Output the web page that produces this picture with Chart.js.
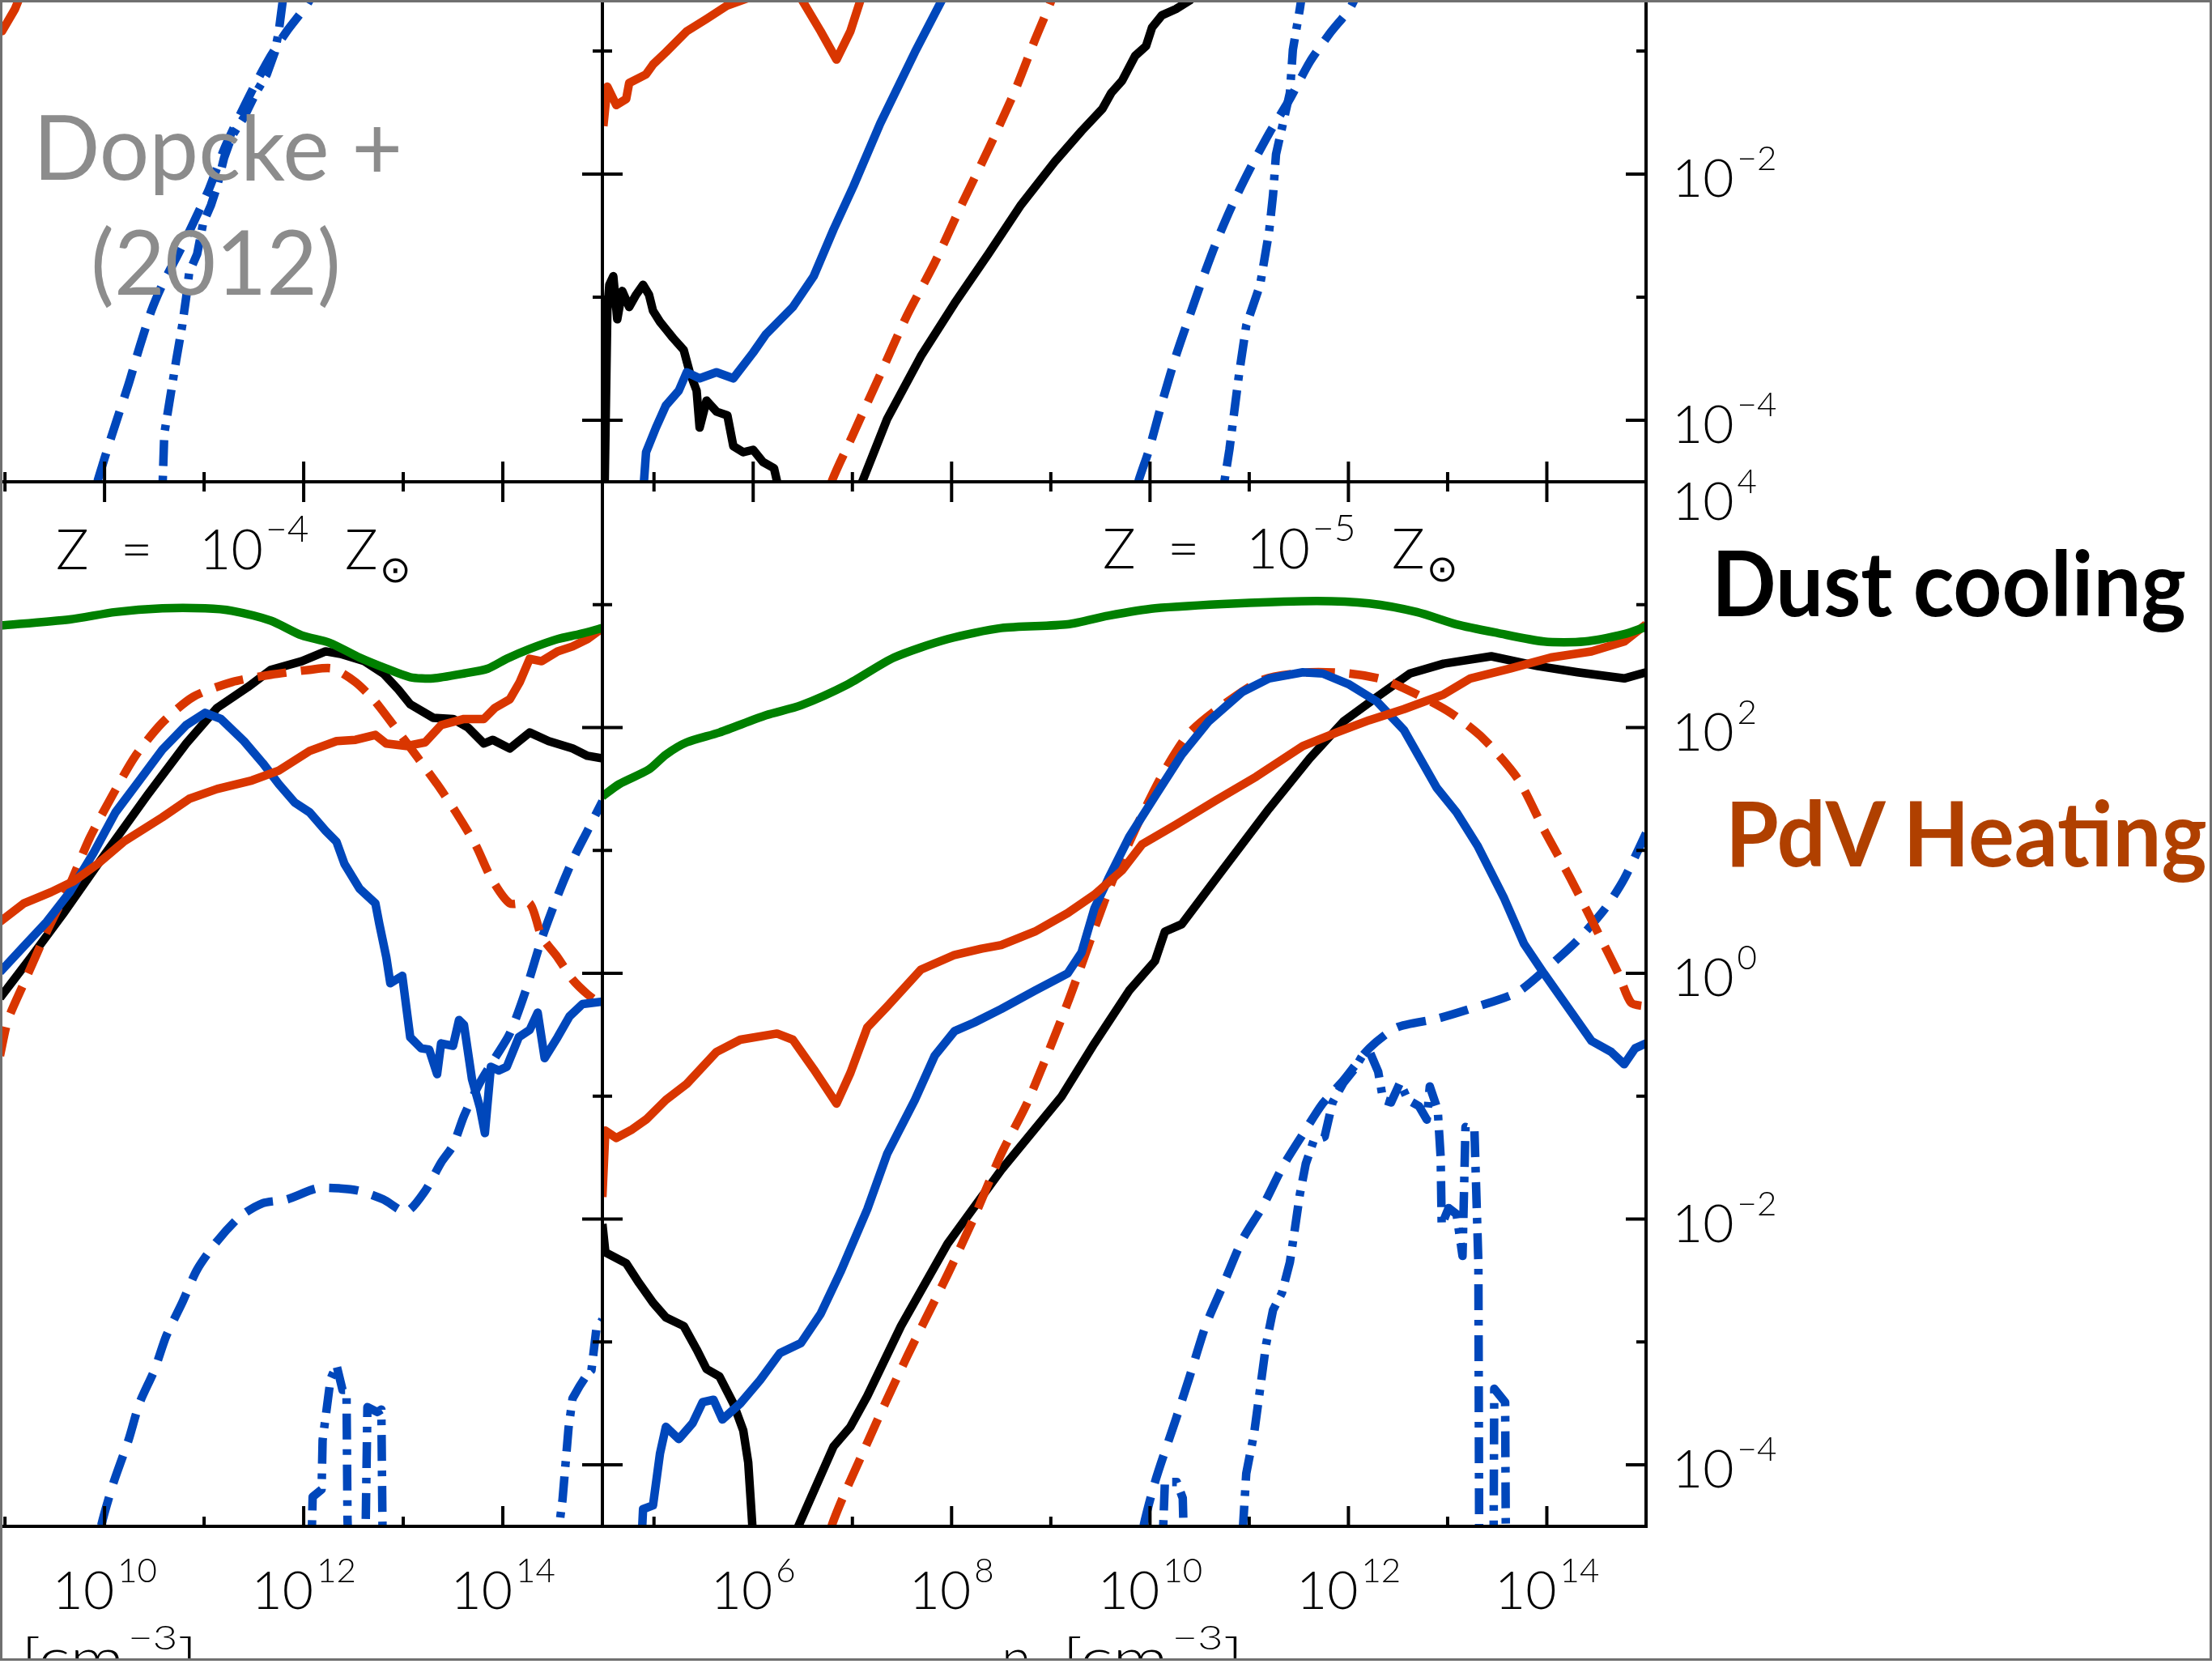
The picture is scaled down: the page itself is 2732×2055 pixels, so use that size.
<!DOCTYPE html>
<html>
<head>
<meta charset="utf-8">
<script src="https://cdn.jsdelivr.net/npm/chart.js@4.4.1/dist/chart.umd.min.js"></script>
<style>
  html, body { margin: 0; padding: 0; background: #fff; }
  #page { position: relative; width: 2732px; height: 2051px; overflow: hidden; background: #fff; }
  #page canvas { position: absolute; left: 0; top: 0; }
  #frame { position: absolute; left: 0; top: 0; width: 2732px; height: 2051px; box-sizing: border-box;
           border: 3px solid #707070; pointer-events: none; z-index: 5; }
  .txt { position: absolute; white-space: pre; line-height: 1; font-family: Lato, "DejaVu Sans", sans-serif; z-index: 3; }
  .probe { display: inline-block; width: 0; height: 0; vertical-align: baseline; }
  .tick { font-size: 66px; font-weight: 300; color: #000; }
  .sup { font-size: 42px; position: relative; top: -33px; margin-left: 4px; }
  .zl { font-size: 68px; font-weight: 300; color: #000; }
  .zsup { font-size: 46px; font-weight: 300; color: #000; }
  .zsun { font-size: 46px; font-family: "DejaVu Sans", sans-serif; color: #000; }
  .cite { font-size: 110px; color: #8c8c8c; }
  .big { font-size: 112px; font-weight: 700; }
</style>
</head>
<body>
<div id="page">
  <canvas id="tl" width="2732" height="2055"></canvas>
  <canvas id="tr" width="2732" height="2055"></canvas>
  <canvas id="bl" width="2732" height="2055"></canvas>
  <canvas id="br" width="2732" height="2055"></canvas>
  <div id="frame"></div>
</div>
<script>
// all values are [log10 n, log10 rate]

// axis ranges (log10)
const leftXRange = [8.95, 15];
const rightXRange = [4.48, 15];
const topYRange = [-4.5, -0.586];
const bottomYRange = [-4.5, 4];

// tick decades and labelled decades
const leftXDecades = [9, 10, 11, 12, 13, 14];
const rightXDecades = [5, 6, 7, 8, 9, 10, 11, 12, 13, 14];
const topYDecades = [-4, -3, -2, -1];
const bottomYDecades = [-4, -3, -2, -1, 0, 1, 2, 3, 4];
const leftXLabels = [10, 12, 14];
const rightXLabels = [6, 8, 10, 12, 14];
const topYLabels = [-2, -4];
const bottomYLabels = [4, 2, 0, -2, -4];

// ---- top left panel (cropped)
const tlRed = [[8.90,-0.75],[8.97,-0.84],[9.10,-0.66],[9.18,-0.50]];
const tlBlueDash = [[9.85,-5.2],[9.90,-4.6],[10.00,-4.31],[10.11,-4.03],[10.24,-3.71],[10.35,-3.41],[10.47,-3.11],[10.58,-2.90],[10.74,-2.65],[10.89,-2.40],[11.05,-2.12],[11.20,-1.80],[11.36,-1.52],[11.52,-1.26],[11.67,-1.04],[11.83,-0.84],[12.02,-0.64],[12.12,-0.50]];
const tlDashDot = [[10.55,-5.2],[10.58,-4.6],[10.60,-4.11],[10.66,-3.81],[10.72,-3.51],[10.78,-3.23],[10.82,-3.0],[10.85,-2.80],[10.93,-2.65],[10.99,-2.40],[11.07,-2.25],[11.13,-2.10],[11.20,-1.87],[11.28,-1.69],[11.40,-1.54],[11.52,-1.34],[11.63,-1.19],[11.71,-1.01],[11.75,-0.84],[11.79,-0.59],[11.81,-0.45]];

// ---- top right panel (cropped)
const trRed = [[4.49,-1.61],[4.53,-1.29],[4.62,-1.44],[4.72,-1.39],[4.75,-1.26],[4.92,-1.19],[4.99,-1.11],[5.12,-1.01],[5.33,-0.84],[5.53,-0.74],[5.74,-0.63],[5.95,-0.57],[6.24,-0.45],[6.48,-0.57],[6.68,-0.84],[6.84,-1.07],[6.98,-0.84],[7.08,-0.59],[7.25,-0.40]];
const trBlack = [[4.49,-5.2],[4.53,-3.11],[4.55,-2.90],[4.59,-2.83],[4.63,-3.18],[4.68,-2.95],[4.75,-3.08],[4.82,-2.98],[4.89,-2.90],[4.95,-2.98],[4.99,-3.11],[5.06,-3.20],[5.12,-3.26],[5.19,-3.33],[5.30,-3.43],[5.36,-3.61],[5.43,-3.76],[5.46,-4.06],[5.53,-3.84],[5.63,-3.93],[5.74,-3.96],[5.80,-4.21],[5.90,-4.26],[6.00,-4.24],[6.10,-4.34],[6.21,-4.39],[6.27,-4.6],[6.30,-5.2],[7.00,-5.2],[7.05,-4.6],[7.35,-3.99],[7.69,-3.48],[8.03,-3.05],[8.37,-2.65],[8.70,-2.25],[9.04,-1.90],[9.31,-1.65],[9.52,-1.47],[9.61,-1.34],[9.72,-1.24],[9.85,-1.04],[9.96,-0.96],[10.02,-0.81],[10.12,-0.71],[10.26,-0.66],[10.40,-0.59],[10.56,-0.45]];
const trRedDash = [[6.70,-5.2],[6.75,-4.6],[7.01,-4.11],[7.28,-3.63],[7.55,-3.15],[7.83,-2.72],[8.10,-2.25],[8.37,-1.80],[8.64,-1.32],[8.84,-0.91],[8.97,-0.66],[9.05,-0.50]];
const trBlue = [[4.86,-5.2],[4.89,-4.6],[4.92,-4.26],[5.02,-4.06],[5.12,-3.88],[5.25,-3.76],[5.33,-3.61],[5.46,-3.66],[5.63,-3.61],[5.80,-3.66],[6.00,-3.45],[6.13,-3.30],[6.40,-3.08],[6.61,-2.83],[6.81,-2.45],[7.01,-2.10],[7.28,-1.59],[7.63,-1.01],[7.90,-0.59],[7.99,-0.45]];
const trBlueDash = [[9.80,-5.2],[9.85,-4.6],[9.99,-4.24],[10.12,-3.86],[10.26,-3.48],[10.40,-3.15],[10.53,-2.85],[10.67,-2.55],[10.83,-2.25],[11.00,-1.97],[11.20,-1.67],[11.41,-1.39],[11.61,-1.09],[11.81,-0.86],[12.01,-0.66],[12.11,-0.50]];
const trDashDot = [[10.70,-5.2],[10.73,-4.6],[10.80,-4.24],[10.90,-3.61],[10.97,-3.23],[11.11,-2.90],[11.20,-2.47],[11.24,-2.17],[11.27,-1.84],[11.34,-1.59],[11.41,-1.34],[11.44,-0.99],[11.51,-0.66],[11.54,-0.50]];

// ---- bottom left panel, Z = 1e-4 Zsun (cropped)
const blGreen = [[8.95,2.83],[9.65,2.88],[10.11,2.94],[10.58,2.97],[11.01,2.97],[11.28,2.95],[11.67,2.87],[11.98,2.75],[12.26,2.69],[12.56,2.57],[12.83,2.48],[13.07,2.41],[13.30,2.40],[13.61,2.44],[13.85,2.48],[14.04,2.56],[14.27,2.64],[14.55,2.72],[14.77,2.76],[15.0,2.81]];
const blBlack = [[8.95,-0.20],[9.26,0.13],[9.58,0.48],[9.96,0.92],[10.43,1.45],[10.82,1.87],[11.13,2.16],[11.44,2.33],[11.67,2.47],[11.98,2.54],[12.22,2.62],[12.37,2.60],[12.61,2.54],[12.80,2.44],[12.95,2.31],[13.07,2.19],[13.30,2.08],[13.50,2.07],[13.65,2.00],[13.81,1.87],[13.90,1.90],[14.07,1.83],[14.27,1.96],[14.46,1.89],[14.70,1.83],[14.85,1.77],[15.0,1.75]];
const blRed = [[8.95,0.42],[9.19,0.57],[9.46,0.66],[9.69,0.75],[9.93,0.89],[10.19,1.07],[10.58,1.27],[10.85,1.42],[11.13,1.50],[11.48,1.57],[11.75,1.65],[12.06,1.81],[12.33,1.89],[12.52,1.90],[12.72,1.94],[12.83,1.87],[13.03,1.85],[13.22,1.88],[13.38,2.02],[13.61,2.07],[13.81,2.07],[13.92,2.16],[14.07,2.23],[14.17,2.37],[14.27,2.56],[14.39,2.54],[14.55,2.62],[14.70,2.66],[14.85,2.72],[15.0,2.81]];
const blBlue = [[8.95,0.01],[9.19,0.22],[9.42,0.42],[9.65,0.66],[9.89,0.98],[10.11,1.31],[10.35,1.57],[10.58,1.82],[10.82,2.02],[11.01,2.12],[11.17,2.07],[11.40,1.89],[11.59,1.71],[11.75,1.54],[11.91,1.39],[12.06,1.31],[12.22,1.16],[12.33,1.07],[12.41,0.89],[12.56,0.69],[12.72,0.57],[12.76,0.40],[12.83,0.13],[12.87,-0.08],[12.99,-0.02],[13.07,-0.52],[13.18,-0.61],[13.26,-0.62],[13.34,-0.82],[13.38,-0.57],[13.50,-0.59],[13.56,-0.38],[13.61,-0.42],[13.69,-0.86],[13.77,-1.09],[13.82,-1.30],[13.88,-0.76],[13.96,-0.79],[14.04,-0.76],[14.16,-0.52],[14.27,-0.46],[14.35,-0.32],[14.42,-0.69],[14.55,-0.52],[14.67,-0.35],[14.80,-0.25],[15.0,-0.23]];
const blRedDash = [[8.95,-0.67],[9.03,-0.38],[9.19,-0.08],[9.42,0.34],[9.65,0.72],[9.85,1.10],[10.08,1.45],[10.31,1.77],[10.58,2.04],[10.89,2.25],[11.28,2.37],[11.67,2.43],[12.06,2.47],[12.29,2.48],[12.52,2.37],[12.72,2.21],[12.91,2.01],[13.15,1.75],[13.34,1.54],[13.53,1.31],[13.73,1.04],[13.88,0.78],[14.07,0.57],[14.27,0.57],[14.39,0.30],[14.55,0.13],[14.70,-0.05],[14.85,-0.17],[15.0,-0.26]];
const blBlueDash = [[9.90,-5.2],[9.94,-4.6],[10.08,-4.17],[10.24,-3.80],[10.35,-3.50],[10.50,-3.23],[10.62,-2.95],[10.78,-2.68],[10.93,-2.41],[11.13,-2.18],[11.36,-1.98],[11.59,-1.87],[11.83,-1.84],[12.13,-1.75],[12.37,-1.75],[12.56,-1.77],[12.80,-1.84],[13.03,-1.94],[13.22,-1.77],[13.38,-1.54],[13.50,-1.40],[13.61,-1.16],[13.77,-0.89],[13.92,-0.69],[14.07,-0.49],[14.23,-0.14],[14.39,0.28],[14.55,0.63],[14.70,0.92],[14.85,1.16],[15.0,1.40]];
const blDashDot = [[12.05,-5.2],[12.08,-4.6],[12.09,-4.26],[12.18,-4.20],[12.19,-3.80],[12.27,-3.30],[12.33,-3.19],[12.39,-3.39],[12.43,-3.39],[12.44,-4.44],[12.47,-5.2],[12.61,-5.2],[12.64,-3.53],[12.74,-3.57],[12.78,-3.55],[12.80,-5.2],[14.52,-5.2],[14.55,-4.6],[14.60,-4.28],[14.66,-3.70],[14.70,-3.46],[14.77,-3.36],[14.85,-3.26],[14.89,-3.23],[14.94,-2.89],[15.0,-2.82]];

// ---- bottom right panel, Z = 1e-5 Zsun
const brGreen = [[4.48,1.44],[4.65,1.54],[4.95,1.66],[5.12,1.78],[5.33,1.88],[5.66,1.96],[6.13,2.10],[6.48,2.18],[6.95,2.35],[7.42,2.57],[7.96,2.72],[8.50,2.81],[9.17,2.84],[9.58,2.91],[10.05,2.97],[10.87,3.01],[11.68,3.03],[12.21,3.01],[12.69,2.94],[13.09,2.84],[13.50,2.77],[13.97,2.70],[14.38,2.70],[14.78,2.76],[15.0,2.82]];
const brBlack = [[4.48,-2.04],[4.51,-2.27],[4.72,-2.36],[4.85,-2.52],[4.99,-2.68],[5.12,-2.80],[5.30,-2.87],[5.43,-3.06],[5.53,-3.22],[5.66,-3.28],[5.80,-3.50],[5.90,-3.72],[5.95,-3.98],[6.00,-4.6],[6.02,-5.2],[6.38,-5.2],[6.40,-4.6],[6.81,-3.85],[6.98,-3.69],[7.15,-3.44],[7.49,-2.87],[7.96,-2.20],[8.50,-1.60],[9.11,-1.00],[9.44,-0.57],[9.79,-0.14],[10.05,0.10],[10.15,0.34],[10.32,0.40],[10.73,0.84],[11.20,1.34],[11.61,1.75],[11.95,2.05],[12.29,2.25],[12.62,2.44],[12.96,2.52],[13.44,2.58],[13.91,2.50],[14.31,2.45],[14.59,2.42],[14.78,2.40],[15.0,2.45]];
const brRed = [[4.48,-1.82],[4.51,-1.28],[4.62,-1.34],[4.78,-1.27],[4.92,-1.19],[5.12,-1.03],[5.33,-0.90],[5.63,-0.64],[5.87,-0.54],[6.24,-0.49],[6.40,-0.54],[6.61,-0.78],[6.84,-1.06],[6.98,-0.81],[7.15,-0.44],[7.35,-0.27],[7.69,0.03],[8.03,0.15],[8.30,0.20],[8.50,0.23],[8.84,0.34],[9.17,0.49],[9.44,0.64],[9.72,0.84],[9.92,1.05],[10.26,1.21],[10.67,1.41],[11.07,1.60],[11.54,1.85],[11.88,1.96],[12.21,2.06],[12.56,2.15],[12.96,2.27],[13.23,2.40],[13.63,2.48],[14.04,2.57],[14.45,2.62],[14.78,2.70],[15.0,2.84]];
const brBlue = [[4.84,-5.2],[4.89,-4.36],[4.99,-4.33],[5.06,-3.91],[5.12,-3.69],[5.25,-3.79],[5.39,-3.66],[5.49,-3.49],[5.60,-3.47],[5.69,-3.63],[5.87,-3.50],[6.07,-3.31],[6.27,-3.09],[6.48,-3.01],[6.68,-2.77],[6.88,-2.43],[7.15,-1.92],[7.35,-1.47],[7.63,-1.03],[7.83,-0.67],[8.03,-0.47],[8.23,-0.40],[8.50,-0.29],[8.84,-0.14],[9.17,0.0],[9.31,0.17],[9.44,0.53],[9.58,0.77],[9.79,1.11],[10.05,1.44],[10.32,1.78],[10.59,2.05],[10.93,2.29],[11.20,2.40],[11.54,2.45],[11.74,2.44],[12.01,2.35],[12.29,2.21],[12.56,1.98],[12.89,1.51],[13.09,1.31],[13.30,1.04],[13.57,0.61],[13.77,0.24],[13.97,0.0],[14.18,-0.24],[14.45,-0.55],[14.65,-0.64],[14.78,-0.74],[14.89,-0.61],[15.0,-0.57]];
const brRedDash = [[6.70,-5.2],[6.75,-4.6],[7.15,-3.82],[7.55,-3.12],[7.96,-2.45],[8.23,-1.98],[8.50,-1.47],[8.77,-1.04],[9.17,-0.24],[9.58,0.67],[9.85,1.17],[10.12,1.61],[10.39,1.95],[10.73,2.18],[11.14,2.39],[11.61,2.45],[12.01,2.44],[12.35,2.39],[12.69,2.27],[13.03,2.12],[13.36,1.91],[13.71,1.58],[13.97,1.17],[14.24,0.77],[14.51,0.34],[14.72,0.0],[14.85,-0.24],[15.0,-0.27]];
const brBlueDash = [[9.85,-5.2],[9.91,-4.6],[10.05,-4.14],[10.26,-3.63],[10.40,-3.28],[10.56,-2.87],[10.73,-2.55],[10.93,-2.17],[11.14,-1.89],[11.34,-1.57],[11.54,-1.31],[11.74,-1.06],[11.95,-0.87],[12.21,-0.61],[12.49,-0.44],[12.89,-0.37],[13.30,-0.27],[13.71,-0.15],[14.04,0.07],[14.31,0.27],[14.59,0.53],[14.78,0.77],[15.0,1.14]];
const brDashDot = [[10.10,-5.2],[10.15,-4.14],[10.27,-4.14],[10.33,-4.27],[10.36,-5.2],[10.90,-5.2],[10.93,-4.6],[10.97,-4.07],[11.05,-3.74],[11.11,-3.38],[11.17,-3.02],[11.24,-2.74],[11.33,-2.60],[11.41,-2.35],[11.46,-2.08],[11.51,-1.80],[11.57,-1.55],[11.65,-1.36],[11.76,-1.33],[11.84,-1.05],[11.95,-0.89],[12.06,-0.78],[12.14,-0.67],[12.22,-0.65],[12.30,-0.80],[12.35,-1.03],[12.43,-1.05],[12.52,-0.89],[12.60,-1.03],[12.71,-1.08],[12.79,-1.19],[12.82,-0.92],[12.90,-1.11],[12.93,-1.50],[12.94,-2.05],[13.01,-1.91],[13.09,-1.96],[13.15,-2.30],[13.18,-1.25],[13.27,-1.27],[13.31,-2.36],[13.32,-5.2],[13.46,-5.2],[13.47,-3.38],[13.58,-3.49],[13.59,-5.2]];

const W = 2732, H = 2055;
const BLUE = '#0047bb', RED = '#d93600', GREEN = '#008000', BLACK = '#000000';

function series(pts, color, style, smooth) {
  let dash = [];
  if (style === 'dash') dash = [36, 18];
  if (style === 'dashdot') dash = [32, 12, 7, 12];
  return {
    data: pts.map(p => ({ x: 10 ** p[0], y: 10 ** p[1] })),
    borderColor: color,
    borderWidth: 10.5,
    borderDash: dash,
    borderJoinStyle: 'round',
    pointRadius: 0,
    fill: false,
    tension: smooth ? 0.25 : 0,
    clip: 0
  };
}

const panelAxes = {
  id: 'panelAxes',
  afterDatasetsDraw(chart, args, o) {
    const ctx = chart.ctx, a = chart.chartArea;
    const sx = chart.scales.x, sy = chart.scales.y;
    const s = o.sides;
    ctx.save();
    ctx.strokeStyle = '#000';
    ctx.lineWidth = 4;
    ctx.beginPath();
    if (s.includes('l')) { ctx.moveTo(a.left, a.top); ctx.lineTo(a.left, a.bottom + 2); }
    if (s.includes('r')) { ctx.moveTo(a.right, a.top); ctx.lineTo(a.right, a.bottom + 2); }
    if (s.includes('t')) { ctx.moveTo(a.left, a.top); ctx.lineTo(a.right + 2, a.top); }
    if (s.includes('b')) { ctx.moveTo(a.left, a.bottom); ctx.lineTo(a.right + 2, a.bottom); }
    for (const e of o.xTicks) {
      const px = sx.getPixelForValue(10 ** e);
      const len = e % 2 === 0 ? 25 : 12;
      if (s.includes('b')) { ctx.moveTo(px, a.bottom); ctx.lineTo(px, a.bottom - len); }
      if (s.includes('t')) { ctx.moveTo(px, a.top); ctx.lineTo(px, a.top + len); }
    }
    for (const e of o.yTicks) {
      const py = sy.getPixelForValue(10 ** e);
      const len = e % 2 === 0 ? 25 : 12;
      if (s.includes('l')) { ctx.moveTo(a.left, py); ctx.lineTo(a.left + len, py); }
      if (s.includes('r')) { ctx.moveTo(a.right, py); ctx.lineTo(a.right - len, py); }
    }
    ctx.stroke();
    ctx.restore();
  }
};

function panel(id, rect, xr, yr, datasets, sides, xTicks, yTicks) {
  return new Chart(document.getElementById(id), {
    type: 'line',
    data: { datasets: datasets },
    options: {
      responsive: false,
      animation: false,
      devicePixelRatio: 1,
      layout: { padding: { left: rect[0], top: rect[1], right: W - rect[2], bottom: H - rect[3] } },
      plugins: {
        legend: { display: false },
        tooltip: { enabled: false },
        panelAxes: { sides: sides, xTicks: xTicks, yTicks: yTicks }
      },
      scales: {
        x: { type: 'logarithmic', display: false, min: 10 ** xr[0], max: 10 ** xr[1] },
        y: { type: 'logarithmic', display: false, min: 10 ** yr[0], max: 10 ** yr[1] }
      }
    },
    plugins: [panelAxes]
  });
}

const tl = panel('tl', [0, 0, 744, 595], leftXRange, topYRange, [
  series(tlRed, RED), series(tlBlueDash, BLUE, 'dash', true), series(tlDashDot, BLUE, 'dashdot')
], 'rb', leftXDecades, topYDecades);

const tr = panel('tr', [744, 0, 2033, 595], rightXRange, topYRange, [
  series(trRed, RED), series(trBlue, BLUE), series(trRedDash, RED, 'dash', true),
  series(trBlueDash, BLUE, 'dash', true), series(trDashDot, BLUE, 'dashdot'), series(trBlack, BLACK)
], 'lrb', rightXDecades, topYDecades);

const bl = panel('bl', [0, 595, 744, 1885], leftXRange, bottomYRange, [
  series(blGreen, GREEN, null, true), series(blRed, RED), series(blBlue, BLUE), series(blRedDash, RED, 'dash', true),
  series(blBlueDash, BLUE, 'dash', true), series(blDashDot, BLUE, 'dashdot'), series(blBlack, BLACK)
], 'trb', leftXDecades, bottomYDecades);

const br = panel('br', [744, 595, 2033, 1885], rightXRange, bottomYRange, [
  series(brGreen, GREEN, null, true), series(brRed, RED), series(brBlue, BLUE), series(brRedDash, RED, 'dash', true),
  series(brBlueDash, BLUE, 'dash', true), series(brDashDot, BLUE, 'dashdot'), series(brBlack, BLACK)
], 'tlrb', rightXDecades, bottomYDecades);

// ---- html text, placed by baseline
const page = document.getElementById('page');

function addText(html, cls, x, baseline, align, fit, color) {
  const el = document.createElement('div');
  el.className = 'txt ' + cls;
  el.innerHTML = html;
  if (color) el.style.color = color;
  const probe = document.createElement('span');
  probe.className = 'probe';
  el.appendChild(probe);
  page.appendChild(el);
  const b = probe.offsetTop;
  let w = el.offsetWidth;
  if (fit) {
    el.style.transformOrigin = '0 0';
    el.style.transform = 'scaleX(' + (fit / w) + ')';
    w = fit;
  }
  el.style.left = (align === 'center' ? x - w / 2 : x) + 'px';
  el.style.top = (baseline - b) + 'px';
  return el;
}

function expText(e) {
  return e < 0 ? '\u2212' + (-e) : String(e);
}

function xLabels(chart, exps) {
  const a = chart.chartArea;
  for (const e of exps) {
    addText('10<span class="sup">' + expText(e) + '</span>', 'tick',
      chart.scales.x.getPixelForValue(10 ** e), a.bottom + 102, 'center');
  }
}

function yLabels(chart, exps) {
  const a = chart.chartArea;
  for (const e of exps) {
    const base = Math.max(chart.scales.y.getPixelForValue(10 ** e) + 28, a.top + 47);
    addText('10<span class="sup">' + expText(e) + '</span>', 'tick', a.right + 32, base, 'left');
  }
}

xLabels(bl, leftXLabels);
xLabels(br, rightXLabels);
yLabels(tr, topYLabels);
yLabels(br, bottomYLabels);

function zLabel(x, base, exp) {
  addText('Z', 'zl', x, base);
  addText('=', 'zl', x + 80, base);
  addText('10', 'zl', x + 177, base);
  addText(expText(exp), 'zsup', x + 259, base - 34);
  addText('Z', 'zl', x + 357, base);
  addText('\u2299', 'zsun', x + 400, base + 16);
}
zLabel(69, 703, -4);
zLabel(1362, 702, -5);

addText('Dopcke +', 'cite', 269, 222, 'center', 456);
addText('(2012)', 'cite', 266, 364, 'center', 309);
addText('Dust cooling', 'big', 2114, 761, 'left', 586, '#000');
addText('PdV Heating', 'big', 2131, 1070, 'left', 595, '#b04000');

// x-axis titles, cut by the bottom edge
addText('[cm<span class="sup">\u22123</span>]', 'tick', 26, 2070, 'left', 218);
addText('n', 'tick', 1237, 2070, 'left');
addText('[cm<span class="sup">\u22123</span>]', 'tick', 1312, 2070, 'left', 224);
</script>
</body>
</html>
